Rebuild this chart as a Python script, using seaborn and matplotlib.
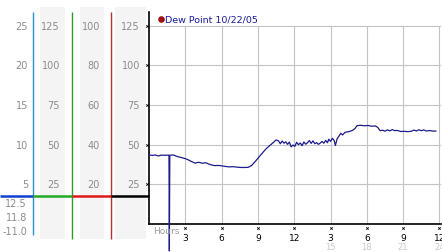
import matplotlib
matplotlib.use("Agg")
import matplotlib.pyplot as plt
import seaborn as sns
import pandas as pd

# ---------------- data ----------------
hours = [0.0, 0.3, 0.5, 0.8, 1.0, 1.3, 1.6, 1.65, 1.68, 1.72, 2.0, 2.3, 2.7, 3.0, 3.2, 3.5,
         3.8, 4.1, 4.4, 4.7, 5.0, 5.4, 5.8, 6.2, 6.6, 7.0, 7.4, 7.8, 8.2, 8.5, 8.8, 9.1,
         9.4, 9.7, 10.0, 10.3, 10.5, 10.7, 10.85, 11.0, 11.15, 11.3, 11.45, 11.6, 11.75,
         11.9, 12.05, 12.2, 12.35, 12.5, 12.65, 12.8, 12.95, 13.1, 13.25, 13.4, 13.55,
         13.7, 13.85, 14.0, 14.15, 14.3, 14.45, 14.6, 14.75, 14.85, 15.0, 15.15, 15.3,
         15.4, 15.55, 15.7, 15.85, 16.0, 16.2, 16.5, 16.8, 17.0, 17.2, 17.5, 17.8, 18.1,
         18.4, 18.7, 18.9, 19.1, 19.3, 19.5, 19.7, 19.9, 20.1, 20.3, 20.5, 20.8, 21.1,
         21.4, 21.7, 21.9, 22.1, 22.3, 22.5, 22.7, 22.9, 23.2, 23.5, 23.7]
dew_point = [43.6, 43.2, 43.5, 42.9, 43.4, 43.3, 43.4, 43.2, -17.0, 43.4, 43.5, 42.6, 41.8,
             41.2, 40.6, 39.4, 38.4, 38.9, 38.3, 38.6, 37.6, 36.8, 36.9, 36.4, 36.0, 36.1,
             35.7, 35.6, 35.7, 37.0, 39.6, 42.3, 45.0, 47.6, 49.6, 51.5, 53.0, 52.4, 50.6,
             52.3, 50.9, 51.8, 50.2, 51.6, 48.6, 49.8, 48.9, 51.5, 50.0, 51.0, 49.4, 51.7,
             50.3, 51.2, 52.6, 50.8, 52.4, 50.6, 51.3, 50.2, 51.0, 52.0, 50.9, 52.7, 51.2,
             53.4, 52.1, 54.0, 52.6, 49.5, 53.8, 55.4, 57.2, 56.1, 57.8, 58.2, 58.9, 60.0,
             62.0, 62.2, 61.9, 62.1, 61.6, 61.8, 60.9, 58.8, 59.1, 58.5, 59.3, 58.7, 59.5,
             58.8, 59.0, 58.3, 58.4, 58.2, 58.5, 59.2, 58.6, 59.4, 58.8, 59.3, 58.6, 58.9,
             58.5, 58.6]

series_label = "Dew Point 10/22/05"
x_ticks = [3, 6, 9, 12, 15, 18, 21, 24]
x_tick_labels = ["3", "6", "9", "12", "3", "6", "9", "12"]
x_sub_labels = ["", "", "", "", "15", "18", "21", "24"]
y_levels = [125, 100, 75, 50, 25]
scale1 = ["25", "20", "15", "10", "5"]
scale2 = ["125", "100", "75", "50", "25"]
scale3 = ["100", "80", "60", "40", "20"]
scale4 = ["125", "100", "75", "50", "25"]
readouts = ["12.5", "11.8", "-11.0"]
readout_levels = [13.0, 4.2, -4.2]
cursor_level = 17.6

df = pd.DataFrame({"hour": hours, "dew": dew_point})

# ---------------- layout ----------------
W, H = 442, 253
fig = plt.figure(figsize=(W / 100, H / 100), dpi=100)
fig.patch.set_facecolor("white")
x0, x1, ytop, ybot = 149, 441, 13, 225
rect_main = [x0 / W, (H - ybot) / H, (x1 - x0) / W, (ybot - ytop) / H]
rect_left = [0, (H - ybot) / H, x0 / W, (ybot - ytop) / H]

YMAX = 133.6
XMAX = 24.13
ax = fig.add_axes(rect_main)
axl = fig.add_axes(rect_left)

gray_txt = "#8c8c8c"
fs = 7

# ---------------- main plot ----------------
ax.set_xlim(0, XMAX)
ax.set_ylim(0, YMAX)
ax.set_facecolor("none")
for s in ["top", "right"]:
    ax.spines[s].set_visible(False)
ax.spines["left"].set_linewidth(1.2)
ax.spines["bottom"].set_linewidth(1.2)
ax.set_yticks([])
ax.hlines(y_levels, 0, XMAX, color="#c4c4c4", lw=0.8, zorder=1)
ax.vlines(x_ticks, 0, 125, color="#c4c4c4", lw=0.8, zorder=1)

sns.lineplot(data=df, x="hour", y="dew", ax=ax, color="#1c1c8c", lw=0.9,
             legend=False, zorder=3, clip_on=False, sort=False)
ax.set_xlabel("")
ax.set_ylabel("")

ax.set_xticks(x_ticks)
ax.set_xticklabels(x_tick_labels, fontsize=6.5, color="black")
ax.tick_params(axis="x", length=0, pad=6.2)
xt = ax.get_xaxis_transform()
ax.scatter(x_ticks, [-0.018] * len(x_ticks), transform=xt, marker="x", s=3,
           lw=0.6, color="black", clip_on=False, zorder=4)
for xv, lab in zip(x_ticks, x_sub_labels):
    if lab:
        ax.text(xv, -0.108, lab, transform=xt, ha="center", va="center",
                fontsize=6, color="#c8c8c8")
ax.text(0.33, -0.03, "Hours", transform=xt, ha="left", va="center",
        fontsize=6.5, color="#9a9a9a")

# legend
ax.scatter([1.0], [129.2], s=14, color="#a01010", clip_on=False, zorder=5)
ax.text(1.35, 129.2, series_label, ha="left", va="center", fontsize=6.8,
        color="#1a1a9a", clip_on=False)

# ---------------- left scale panel ----------------
axl.set_xlim(0, x0)
axl.set_ylim(0, YMAX)
axl.axis("off")
for a, b in [(40, 65), (80, 104), (115, 146)]:
    axl.fill_between([a, b], -9.5, 137, color="#f4f4f4", lw=0, clip_on=False, zorder=0)

for xp, labels in [(28, scale1), (60, scale2), (100, scale3), (140, scale4)]:
    for yv, lab in zip(y_levels, labels):
        axl.text(xp, yv, lab, ha="right", va="center", fontsize=fs, color=gray_txt)
axl.scatter([147] * len(y_levels), y_levels, marker="x", s=3, lw=0.6, color="black",
            clip_on=False, zorder=4)

for yv, lab in zip(readout_levels, readouts):
    axl.text(27, yv, lab, ha="right", va="center", fontsize=fs, color=gray_txt, clip_on=False)

axl.vlines([33.3], -7, YMAX, color="#2b8fcc", lw=1.0, clip_on=False, zorder=2)
axl.vlines([72.3], -9.5, YMAX, color="#2c9c2c", lw=1.0, clip_on=False, zorder=2)
axl.vlines([111], -9.5, YMAX, color="#b03232", lw=1.0, clip_on=False, zorder=2)

for (a, b), c in zip([(0, 33.3), (33.3, 72.3), (72.3, 111), (111, 149)],
                     ["#1040d0", "#22aa22", "#e01818", "black"]):
    axl.plot([a, b], [cursor_level, cursor_level], color=c, lw=1.8,
             solid_capstyle="butt", clip_on=False, zorder=3)

fig.savefig("out.png", dpi=100)
